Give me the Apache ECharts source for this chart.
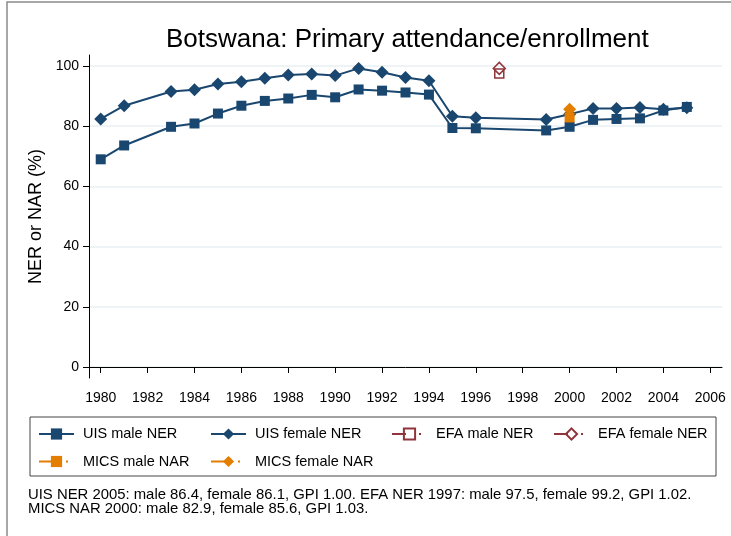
<!DOCTYPE html>
<html>
<head>
<meta charset="utf-8">
<script src="https://cdn.jsdelivr.net/npm/echarts@6/dist/echarts.min.js"></script>
<style>
html,body{margin:0;padding:0;background:#fff;}
#chart{width:731px;height:536px;}
</style>
</head>
<body>
<div id="chart"></div>
<script>
const titleText = 'Botswana: Primary attendance/enrollment';
const yAxisTitle = 'NER or NAR (%)';
const footerLines = [
  'UIS NER 2005: male 86.4, female 86.1, GPI 1.00. EFA NER 1997: male 97.5, female 99.2, GPI 1.02.',
  'MICS NAR 2000: male 82.9, female 85.6, GPI 1.03.'
];
const xTicks = [1980,1982,1984,1986,1988,1990,1992,1994,1996,1998,2000,2002,2004,2006];
const yTicks = [0,20,40,60,80,100];

const uisYears  = [1980,1981,1983,1984,1985,1986,1987,1988,1989,1990,1991,1992,1993,1994,1995,1996,1999,2000,2001,2002,2003,2004,2005];
const uisMale   = [69.0,73.6,79.8,80.9,84.2,86.8,88.4,89.2,90.4,89.6,92.2,91.8,91.2,90.5,79.4,79.3,78.6,79.8,82.1,82.4,82.6,85.2,86.4];
const uisFemale = [82.4,86.8,91.5,92.1,94.0,94.8,95.9,97.0,97.3,96.8,99.2,97.9,96.2,95.1,83.3,82.8,82.2,84.0,85.9,85.9,86.2,85.6,86.1];
const efaYears  = [1997];
const efaMale   = [97.5];
const efaFemale = [99.2];
const micsYears  = [2000];
const micsMale   = [82.9];
const micsFemale = [85.6];

const seriesNames = ['UIS male NER','UIS female NER','EFA male NER','EFA female NER','MICS male NAR','MICS female NAR'];

const NAVY = '#1a476f', MAROON = '#90353b', ORANGE = '#e37e00';
const FONT = '"Liberation Sans", Arial, Helvetica, sans-serif';

function pairs(xs, ys){ return xs.map((x,i)=>[x, ys[i]]); }

const chart = echarts.init(document.getElementById('chart'), null, {renderer:'canvas'});

const dashPat = [14,13,2,40];

function legendCol(names, left){
  return {data: names, orient: 'vertical', left: left, top: 426.5, padding: 0,
    itemGap: 12.5, itemWidth: 35, itemHeight: 14,
    textStyle: {fontSize: 14.5, color: '#000', fontFamily: FONT, padding: [0,0,0,4]}};
}

const option = {
  animation: false,
  backgroundColor: '#fff',
  textStyle: {fontFamily: FONT},
  title: {
    text: titleText,
    left: 161, top: 22,
    textStyle: {fontFamily: FONT, fontSize: 26, fontWeight: 'normal', color: '#000'}
  },
  grid: {left: 89, right: 9, top: 55, bottom: 158, containLabel: false},
  xAxis: {
    type: 'value', min: 1979.5, max: 2006.5,
    axisLine: {show: true, lineStyle: {color: '#000', width: 1}},
    axisTick: {show: true, length: 6, customValues: xTicks, lineStyle: {color: '#000'}},
    axisLabel: {customValues: xTicks, margin: 13, fontSize: 14, color: '#000', fontFamily: FONT,
      formatter: (v) => String(v)},
    splitLine: {show: false}
  },
  yAxis: {
    type: 'value', min: -3.65, max: 103.65,
    name: yAxisTitle, nameLocation: 'middle', nameGap: 42,
    nameTextStyle: {fontSize: 18, color: '#000', fontFamily: FONT},
    axisLine: {show: true, lineStyle: {color: '#000', width: 1}},
    axisTick: {show: true, length: 6, customValues: yTicks, lineStyle: {color: '#000'}},
    axisLabel: {customValues: yTicks, margin: 10, fontSize: 14, color: '#000', fontFamily: FONT,
      formatter: (v) => String(v)},
    splitLine: {show: true, lineStyle: {color: '#e8eff2', width: 1.5}}
  },
  legend: [
    legendCol([seriesNames[0], seriesNames[4]], 38),
    legendCol([seriesNames[1], seriesNames[5]], 210),
    legendCol([seriesNames[2]], 391),
    legendCol([seriesNames[3]], 553)
  ],
  graphic: [
    {type: 'rect', silent: true, z: -10,
     shape: {x: 7, y: 2, width: 800, height: 600}, style: {fill: 'none', stroke: '#8a8a8a', lineWidth: 1.5}},
    {type: 'rect', silent: true,
     shape: {x: 30, y: 417, width: 686, height: 59}, style: {fill: 'none', stroke: '#444', lineWidth: 1}},
    {type: 'text', left: 28, top: 487, silent: true, scaleX: 1.025,
     style: {text: footerLines.join('\n'), fontSize: 14.5, lineHeight: 14.5, fill: '#000', fontFamily: FONT}}
  ],
  series: [
    {name: seriesNames[0], type: 'line', data: pairs(uisYears, uisMale), symbol: 'rect', symbolSize: 10,
     itemStyle: {color: NAVY}, lineStyle: {color: NAVY, width: 2}, z: 2},
    {name: seriesNames[1], type: 'line', data: pairs(uisYears, uisFemale), symbol: 'diamond', symbolSize: 13,
     itemStyle: {color: NAVY}, lineStyle: {color: NAVY, width: 2}, z: 2},
    {name: seriesNames[2], type: 'line', data: pairs(efaYears, efaMale), symbol: 'rect', symbolSize: 9,
     itemStyle: {color: 'rgba(255,255,255,0)', borderColor: MAROON, borderWidth: 1.5},
     lineStyle: {color: MAROON, width: 1.5, type: dashPat}, z: 3},
    {name: seriesNames[3], type: 'line', data: pairs(efaYears, efaFemale), symbol: 'diamond', symbolSize: 12,
     itemStyle: {color: 'rgba(255,255,255,0)', borderColor: MAROON, borderWidth: 1.5},
     lineStyle: {color: MAROON, width: 1.5, type: dashPat}, z: 3},
    {name: seriesNames[4], type: 'line', data: pairs(micsYears, micsMale), symbol: 'rect', symbolSize: 10,
     itemStyle: {color: ORANGE}, lineStyle: {color: ORANGE, width: 1.5, type: dashPat}, z: 4},
    {name: seriesNames[5], type: 'line', data: pairs(micsYears, micsFemale), symbol: 'diamond', symbolSize: 13,
     itemStyle: {color: ORANGE}, lineStyle: {color: ORANGE, width: 1.5, type: dashPat}, z: 4}
  ]
};
chart.setOption(option);
</script>
</body>
</html>
